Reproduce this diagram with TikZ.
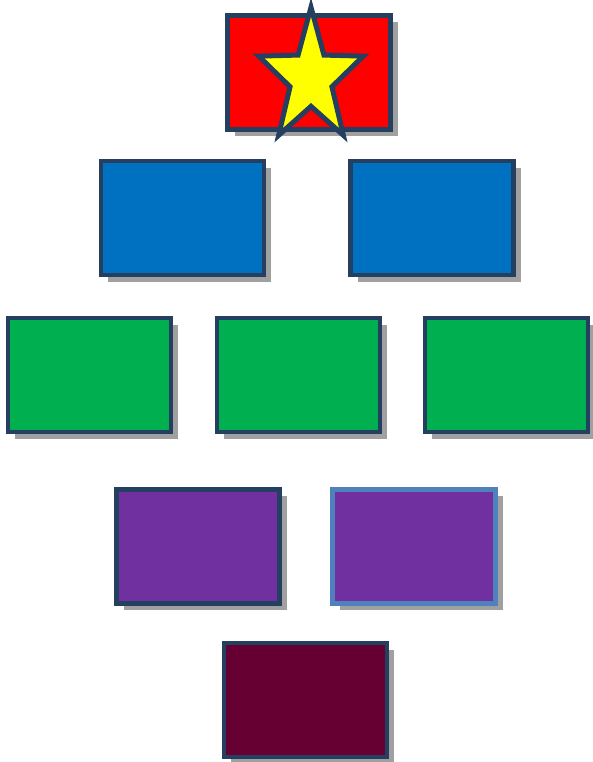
\documentclass[tikz,border=0pt]{standalone}
\usetikzlibrary{shadows}
\definecolor{edge}{HTML}{243F60}
\definecolor{lightedge}{HTML}{4F81BD}
\definecolor{cred}{HTML}{FF0000}
\definecolor{cblue}{HTML}{0070C0}
\definecolor{cgreen}{HTML}{00B050}
\definecolor{cpurple}{HTML}{7030A0}
\definecolor{cmaroon}{HTML}{660033}
\definecolor{cyellow}{HTML}{FFFF00}
\definecolor{shade}{HTML}{A0A0A0}
\tikzset{
  box/.style={draw=edge, line width=4.5pt, inner sep=0pt, minimum width=163pt, minimum height=114pt,
    drop shadow={shadow xshift=7pt, shadow yshift=-7pt, fill=shade, opacity=1}},
  starshape/.style={draw=edge, line width=5pt, fill=cyellow, line join=miter}
}
\begin{document}
\begin{tikzpicture}[x=1pt,y=1pt]
\useasboundingbox (0,0) rectangle (592,762);
\node[box, fill=cred] (top) at (309,689.5) {};
\node[box, fill=cblue] (b1) at (182.5,544) {};
\node[box, fill=cblue] (b2) at (432,544) {};
\node[box, fill=cgreen] (g1) at (89.5,387) {};
\node[box, fill=cgreen] (g2) at (298.5,387) {};
\node[box, fill=cgreen] (g3) at (506.5,387) {};
\node[box, fill=cpurple] (p1) at (198,215.5) {};
\node[box, fill=cpurple, draw=lightedge] (p2) at (414,215.5) {};
\node[box, fill=cmaroon] (m) at (305.5,62) {};
\begin{scope}[shift={(311,684)}, xscale=55, yscale=70.8]
\draw[starshape] (90:1) -- (126:0.4) -- (162:1) -- (198:0.4) -- (234:1) -- (270:0.4)
  -- (306:1) -- (342:0.4) -- (18:1) -- (54:0.4) -- cycle;
\end{scope}
\end{tikzpicture}
\end{document}
